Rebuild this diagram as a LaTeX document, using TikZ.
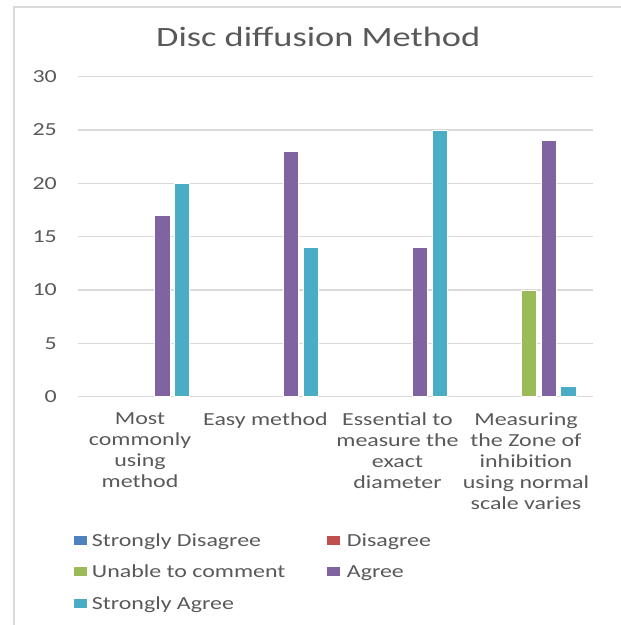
\documentclass[tikz,border=0pt]{standalone}
\usepackage{fontspec}
\setmainfont{Carlito}[FakeStretch=1.3]
\definecolor{gridgray}{HTML}{D9D9D9}
\definecolor{txtgray}{HTML}{595959}
\definecolor{sdis}{HTML}{4F81BD}
\definecolor{dis}{HTML}{C0504D}
\definecolor{unab}{HTML}{9BBB59}
\definecolor{agr}{HTML}{8064A2}
\definecolor{sagr}{HTML}{4BACC6}

\begin{document}
\begin{tikzpicture}[x=1pt,y=1pt]
\tikzstyle{every node}+=[inner sep=0pt,text=txtgray]
\tikzstyle{grid}=[gridgray,line width=1.5pt]
\tikzstyle{bar}=[draw=white,line width=0.6pt]
\tikzstyle{lab}=[font=\fontsize{18.4}{21}\selectfont]
\tikzstyle{swatch}=[minimum width=13pt,minimum height=9pt]
\useasboundingbox (0,0) rectangle (621,-625);
% chart frame
\draw [gridgray,line width=2pt] (14,-625) -- (14,-7) -- (621,-7);
\node (title) at (318.3,-46.7) [anchor=base,font=\fontsize{28}{32}\selectfont] {Disc diffusion Method};
% grid and ticks
\draw [grid] (78,-396.7) -- (593.3,-396.7);
\node (t0) at (57,-396.7) [lab,anchor=east] {0};
\draw [grid] (78,-343.4) -- (593.3,-343.4);
\node (t5) at (57,-343.4) [lab,anchor=east] {5};
\draw [grid] (78,-290) -- (593.3,-290);
\node (t10) at (57,-290) [lab,anchor=east] {10};
\draw [grid] (78,-236.7) -- (593.3,-236.7);
\node (t15) at (57,-236.7) [lab,anchor=east] {15};
\draw [grid] (78,-183.4) -- (593.3,-183.4);
\node (t20) at (57,-183.4) [lab,anchor=east] {20};
\draw [grid] (78,-130) -- (593.3,-130);
\node (t25) at (57,-130) [lab,anchor=east] {25};
\draw [grid] (78,-76.7) -- (593.3,-76.7);
\node (t30) at (57,-76.7) [lab,anchor=east] {30};
% bars
\filldraw [bar,fill=agr] (154.4,-396.7) rectangle (169.8,-215.4);
\filldraw [bar,fill=sagr] (174.1,-396.7) rectangle (189.5,-183.4);
\filldraw [bar,fill=agr] (283.2,-396.7) rectangle (298.6,-151.4);
\filldraw [bar,fill=sagr] (302.9,-396.7) rectangle (318.3,-247.4);
\filldraw [bar,fill=agr] (412.1,-396.7) rectangle (427.5,-247.4);
\filldraw [bar,fill=sagr] (431.8,-396.7) rectangle (447.2,-130);
\filldraw [bar,fill=unab] (521.2,-396.7) rectangle (536.6,-290);
\filldraw [bar,fill=agr] (540.9,-396.7) rectangle (556.3,-140.7);
\filldraw [bar,fill=sagr] (560.6,-396.7) rectangle (576,-386);
% category labels
\node (cat1) at (140,-412.5) [lab,anchor=north,align=center] {Most\\commonly\\using\\method};
\node (cat2) at (265.5,-412.5) [lab,anchor=north,align=center] {Easy method};
\node (cat3) at (397.5,-412.5) [lab,anchor=north,align=center] {Essential to\\measure the\\exact\\diameter};
\node (cat4) at (526,-412.5) [lab,anchor=north,align=center] {Measuring\\the Zone of\\inhibition\\using normal\\scale varies};
% legend
\node (sdbox) at (80,-540.3) [swatch,fill=sdis] {};
\node (sdtxt) at (91.7,-546) [lab,anchor=base west] {Strongly Disagree};
\node (dbox) at (333.3,-540.3) [swatch,fill=dis] {};
\node (dtxt) at (346.7,-546) [lab,anchor=base west] {Disagree};
\node (ubox) at (80,-571.7) [swatch,fill=unab] {};
\node (utxt) at (91.7,-577.5) [lab,anchor=base west] {Unable to comment};
\node (abox) at (333.3,-571.7) [swatch,fill=agr] {};
\node (atxt) at (346.7,-577.5) [lab,anchor=base west] {Agree};
\node (sabox) at (80,-603.3) [swatch,fill=sagr] {};
\node (satxt) at (91.7,-609) [lab,anchor=base west] {Strongly Agree};
\end{tikzpicture}
\end{document}
